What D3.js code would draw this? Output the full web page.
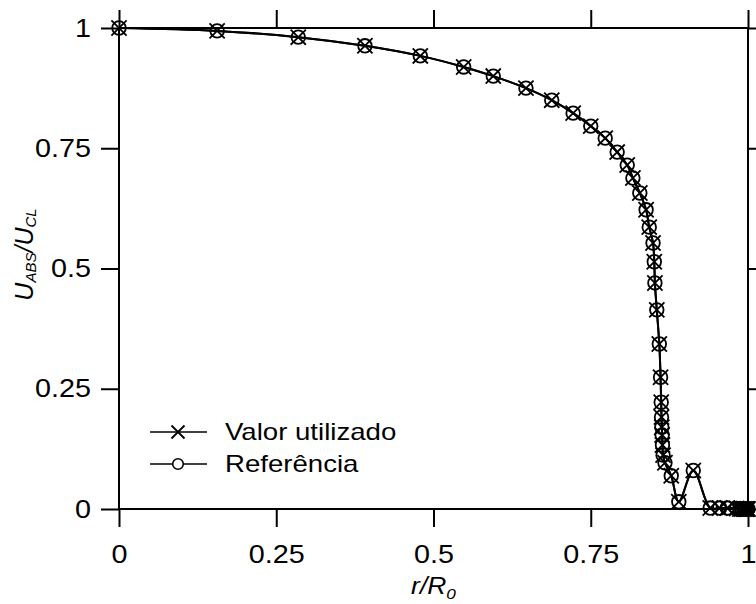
<!DOCTYPE html>
<html>
<head>
<meta charset="utf-8">
<script src="https://cdn.jsdelivr.net/npm/d3@7"></script>
<style>
  body { margin: 0; background: #fff; }
  text { font-family: "Liberation Sans", Arial, sans-serif; fill: #000; }
</style>
</head>
<body>
<div id="chart"></div>
<script>
const width = 756;
const height = 604;

// r/R0 positions (shared by both series)
const rVals = [0, 0.156, 0.285, 0.391, 0.479, 0.548, 0.595, 0.647, 0.688, 0.722,
  0.750, 0.773, 0.792, 0.808, 0.817, 0.828, 0.838, 0.843, 0.849, 0.851,
  0.852, 0.855, 0.859, 0.861, 0.862, 0.8625, 0.863, 0.8635, 0.864, 0.865,
  0.868, 0.878, 0.890, 0.913, 0.940, 0.955, 0.967, 0.982, 0.987, 0.990,
  0.993, 0.995, 0.997, 0.998, 0.999, 1.0];

// "Valor utilizado"
const usedVals = [1.000, 0.994, 0.981, 0.963, 0.942, 0.919, 0.900, 0.875, 0.850, 0.823,
  0.796, 0.771, 0.742, 0.715, 0.688, 0.657, 0.622, 0.586, 0.553, 0.514,
  0.470, 0.414, 0.343, 0.274, 0.222, 0.191, 0.170, 0.154, 0.133, 0.112,
  0.096, 0.069, 0.015, 0.080, 0.002, 0.002, 0.002, 0.001, 0, 0,
  0, 0, 0, 0, 0, 0];

// "Referência"
const refVals = [1.000, 0.994, 0.981, 0.963, 0.942, 0.919, 0.900, 0.875, 0.850, 0.823,
  0.796, 0.771, 0.742, 0.715, 0.688, 0.657, 0.622, 0.586, 0.553, 0.514,
  0.470, 0.414, 0.343, 0.274, 0.222, 0.191, 0.170, 0.154, 0.133, 0.112,
  0.096, 0.069, 0.015, 0.080, 0.002, 0.002, 0.002, 0.001, 0, 0,
  0, 0, 0, 0, 0, 0];

const xTicks = [0, 0.25, 0.5, 0.75, 1];
const yTicks = [0, 0.25, 0.5, 0.75, 1];
const seriesNames = ["Valor utilizado", "Referência"];

const margin = {l: 119, r: 8, t: 28, b: 95};
const stretch = 1.15; // text in the source is drawn a bit wide

const x = d3.scaleLinear().domain([0, 1]).range([margin.l, width - margin.r]);
const y = d3.scaleLinear().domain([0, 1]).range([height - margin.b, margin.t]);

const svg = d3.select("#chart").append("svg")
  .attr("width", width)
  .attr("height", height);

// frame
svg.append("rect")
  .attr("x", x(0)).attr("y", y(1))
  .attr("width", x(1) - x(0)).attr("height", y(0) - y(1))
  .attr("fill", "none").attr("stroke", "#000").attr("stroke-width", 2);

const fmt = d => d === 0 ? "0" : d === 1 ? "1" : String(d);

function styleAxis(g) {
  g.select(".domain").remove();
  g.selectAll(".tick line").attr("stroke", "#000").attr("stroke-width", 2);
  g.selectAll(".tick text").attr("font-size", 25).attr("fill", "#000")
    .attr("font-family", "Liberation Sans, Arial, sans-serif");
}

svg.append("g")
  .attr("transform", `translate(0,${y(0)})`)
  .call(d3.axisBottom(x).tickValues(xTicks).tickFormat(fmt).tickSize(18).tickPadding(18))
  .call(styleAxis)
  .call(g => g.selectAll(".tick text").attr("transform", `scale(${stretch},1)`));

svg.append("g")
  .attr("transform", `translate(${x(0)},0)`)
  .call(d3.axisLeft(y).tickValues(yTicks).tickFormat(fmt).tickSize(18).tickPadding(6.3))
  .call(styleAxis)
  .call(g => g.selectAll(".tick text").attr("transform", `scale(${stretch},1)`));

svg.append("g")
  .attr("transform", `translate(0,${y(1)})`)
  .call(d3.axisTop(x).tickValues(xTicks).tickFormat("").tickSize(18))
  .call(styleAxis);

svg.append("g")
  .attr("transform", `translate(${x(1)},0)`)
  .call(d3.axisRight(y).tickValues(yTicks).tickFormat("").tickSize(18))
  .call(styleAxis);

// series
const line = d3.line()
  .x(d => x(d[0]))
  .y(d => y(d[1]))
  .curve(d3.curveCatmullRom.alpha(0.5));

const used = rVals.map((r, i) => [r, usedVals[i]]);
const ref = rVals.map((r, i) => [r, refVals[i]]);

for (const s of [used, ref]) {
  svg.append("path")
    .datum(s)
    .attr("d", line)
    .attr("fill", "none")
    .attr("stroke", "#000")
    .attr("stroke-width", 2);
}

function cross(g, cx, cy, a) {
  g.append("path")
    .attr("d", `M${cx - a},${cy - a}L${cx + a},${cy + a}M${cx - a},${cy + a}L${cx + a},${cy - a}`)
    .attr("stroke", "#000").attr("stroke-width", 1.8).attr("fill", "none");
}

const marks = svg.append("g");
ref.forEach(d => {
  marks.append("circle")
    .attr("cx", x(d[0])).attr("cy", y(d[1])).attr("r", 6.8)
    .attr("fill", "none").attr("stroke", "#000").attr("stroke-width", 1.8);
});
used.forEach(d => cross(marks, x(d[0]), y(d[1]), 7.6));

// legend
const leg = svg.append("g");
const legY = [432, 464];
legY.forEach((ly, i) => {
  leg.append("line")
    .attr("x1", 150).attr("x2", 207).attr("y1", ly).attr("y2", ly)
    .attr("stroke", "#000").attr("stroke-width", 1.6);
  if (i === 0) cross(leg, 178, ly, 6.5);
  else leg.append("circle").attr("cx", 178).attr("cy", ly).attr("r", 5.3)
    .attr("fill", "#fff").attr("stroke", "#000").attr("stroke-width", 1.6);
  leg.append("text")
    .attr("transform", `translate(225,${ly + 8}) scale(1.2,1)`)
    .attr("font-size", 23)
    .text(seriesNames[i]);
});

// axis titles
const xt = svg.append("text")
  .attr("transform", `translate(${x(0.5)},594) scale(${stretch},1)`)
  .attr("text-anchor", "middle")
  .attr("font-size", 23)
  .attr("font-style", "italic");
xt.append("tspan").text("r/R");
xt.append("tspan").attr("font-size", 15).attr("dy", 5).text("0");

const yt = svg.append("text")
  .attr("transform", `translate(33,${y(0.5) - 14}) rotate(-90)`)
  .attr("text-anchor", "middle")
  .attr("font-size", 25)
  .attr("font-style", "italic");
yt.append("tspan").text("U");
yt.append("tspan").attr("font-size", 15).attr("dy", 3).text("ABS");
yt.append("tspan").attr("dy", -3).text("/U");
yt.append("tspan").attr("font-size", 15).attr("dy", 3).text("CL");
</script>
</body>
</html>
